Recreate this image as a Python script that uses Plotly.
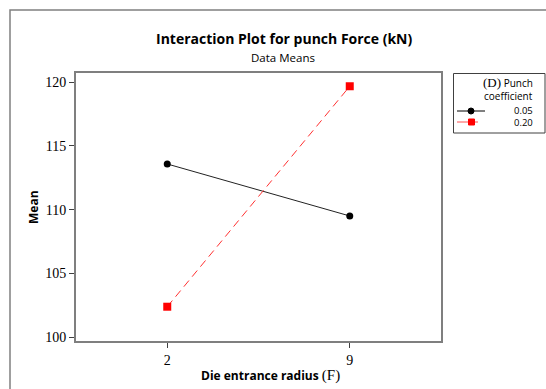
import plotly.graph_objects as go

# Factor levels and cell means
radius_levels = ["2", "9"]
punch_levels = ["0.05", "0.20"]
mean_005 = [113.58, 109.50]
mean_020 = [102.38, 119.68]
y_ticks = [100, 105, 110, 115, 120]

W, H = 546, 389
L, R, T, B = 76, 441, 73, 341  # plot area in pixels


def px(x):
    return (x - L) / (R - L)


def py(y):
    return (B - y) / (B - T)


SANS = "Open Sans"
SERIF = "Liberation Serif"
FRAME = "#7f7f7f"

fig = go.Figure()
fig.add_trace(go.Scatter(
    x=radius_levels, y=mean_005, mode="lines+markers", name=punch_levels[0],
    line=dict(color="#222222", width=1),
    marker=dict(symbol="circle", size=7, color="black"),
))
fig.add_trace(go.Scatter(
    x=radius_levels, y=mean_020, mode="lines+markers", name=punch_levels[1],
    line=dict(color="#ff3030", width=1, dash="8px,5px"),
    marker=dict(symbol="square", size=8, color="#ff0000"),
))

shapes = []
# outer graph frame
shapes.append(dict(type="rect", xref="paper", yref="paper",
                   x0=px(10), x1=px(600), y0=py(10), y1=py(420),
                   line=dict(color="#808080", width=1.5)))
# legend box
shapes.append(dict(type="rect", xref="paper", yref="paper",
                   x0=px(453.5), x1=px(545), y0=py(73.5), y1=py(133),
                   line=dict(color="#404040", width=1)))
# legend samples
shapes.append(dict(type="line", xref="paper", yref="paper",
                   x0=px(457), x1=px(485), y0=py(111), y1=py(111),
                   line=dict(color="#000000", width=1)))
shapes.append(dict(type="circle", xref="paper", yref="paper",
                   x0=px(468), x1=px(474), y0=py(108), y1=py(114),
                   fillcolor="#000000", line=dict(color="#000000", width=1)))
shapes.append(dict(type="line", xref="paper", yref="paper",
                   x0=px(457), x1=px(478), y0=py(122), y1=py(122),
                   line=dict(color="#ff5050", width=1)))
shapes.append(dict(type="rect", xref="paper", yref="paper",
                   x0=px(468.5), x1=px(474.5), y0=py(119), y1=py(125),
                   fillcolor="#ff0000", line=dict(color="#ff0000", width=1)))


def label(text, x, y, size, xanchor="center", **kw):
    return dict(text=text, x=px(x), y=py(y), xref="paper", yref="paper",
                xanchor=xanchor, yanchor="middle", showarrow=False,
                font=dict(family=SANS, size=size, color="#000"), **kw)


ann = [
    label("<b>Interaction Plot for punch Force (kN)</b>", 284, 39, 14),
    label("Data Means", 283, 57, 11.5),
    label("<b>Die entrance radius</b> <span style='font-family:" + SERIF
          + ";font-size:15px'>(F)</span>", 270, 375, 12),
    label("<b>Mean</b>", 33, 207, 12, textangle=-90),
    label("<span style='font-family:" + SERIF + ";font-size:13px'>(D)</span> Punch",
          535, 82, 10, xanchor="right"),
    label("coefficient", 535, 96, 10, xanchor="right"),
]
for lvl, yy in zip(punch_levels, [110.5, 122.5]):
    ann.append(label(lvl, 535, yy, 9.5, xanchor="right"))

fig.update_layout(
    width=W, height=H,
    margin=dict(l=L, r=W - R, t=T, b=H - B),
    paper_bgcolor="white", plot_bgcolor="white",
    showlegend=False,
    shapes=shapes, annotations=ann,
    xaxis=dict(type="category", range=[-0.5, 1.5], showgrid=False, zeroline=False,
               showline=True, mirror=True, linecolor=FRAME, linewidth=2,
               ticks="outside", ticklen=5, tickcolor="#404040",
               tickfont=dict(family=SERIF, size=14, color="#000")),
    yaxis=dict(range=[99.69, 120.72], tickvals=y_ticks, showgrid=False, zeroline=False,
               showline=True, mirror=True, linecolor=FRAME, linewidth=2,
               ticks="outside", ticklen=5, tickcolor="#404040",
               tickfont=dict(family=SERIF, size=14, color="#000")),
)

fig.write_html("out.html")
